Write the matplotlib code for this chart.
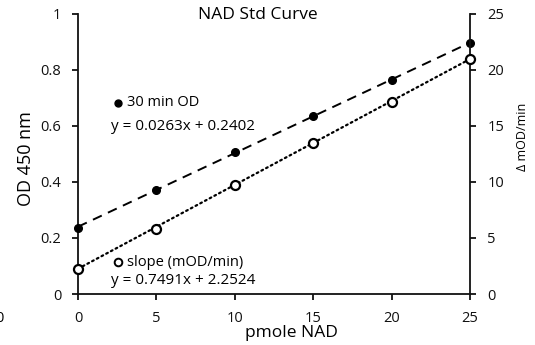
import numpy as np
import matplotlib
matplotlib.use("Agg")
import matplotlib.pyplot as plt

plt.rcParams['font.family'] = ['Open Sans', 'DejaVu Sans']

# data
pmole = [0, 5, 10, 15, 20, 25]
od_30min = [0.235, 0.371, 0.508, 0.637, 0.765, 0.896]
slope_mod = [2.26, 5.83, 9.73, 13.46, 17.17, 20.95]

# trendline coefficients as printed on the chart
od_fit = (0.0263, 0.2402)
slope_fit = (0.7491, 2.2524)

fig = plt.figure(figsize=(5.35, 3.45), dpi=100)
ax = fig.add_axes([78/535, 1-294/345, (470-78)/535, (294-14)/345])
ax2 = ax.twinx()

xx = np.array([pmole[0], pmole[-1]])
ax.plot(xx, od_fit[0]*xx + od_fit[1], color='black', lw=1.4, ls=(0, (5, 3.5)), zorder=2)
ax.plot(pmole, od_30min, 'o', color='black', ms=5.5, zorder=3, clip_on=False)
ax2.plot(xx, slope_fit[0]*xx + slope_fit[1], color='black', lw=1.6, ls=(0, (0.8, 1.6)),
         dash_capstyle='round', zorder=2)
ax2.plot(pmole, slope_mod, 'o', mfc='white', mec='black', mew=1.6, ms=6.5, zorder=3, clip_on=False)

ax.set_xlim(0, 25)
ax.set_ylim(0, 1)
ax2.set_ylim(0, 25)
ax.set_xticks([0, 5, 10, 15, 20, 25])
ax.set_yticks([0, 0.2, 0.4, 0.6, 0.8, 1])
ax.set_yticklabels(['0', '0.2', '0.4', '0.6', '0.8', '1'])
ax2.set_yticks([0, 5, 10, 15, 20, 25])

for a in (ax, ax2):
    a.spines['top'].set_visible(False)
    for s in a.spines.values():
        s.set_linewidth(1.3)
        s.set_color('#111111')
    a.tick_params(direction='out', length=4, width=1.3, labelsize=10.5, colors='#111111')
ax.tick_params(axis='x', pad=8)
ax.tick_params(axis='y', pad=8)
ax2.tick_params(axis='y', pad=8.5)
ax.spines['right'].set_visible(False)
ax2.spines['left'].set_visible(False)
ax2.spines['bottom'].set_visible(False)

fig.text(26/535, 1-159/345, 'OD 450 nm', rotation=90, ha='center', va='center', fontsize=13)
fig.text(291/535, 1-333/345, 'pmole NAD', ha='center', va='center', fontsize=12.5)
fig.text(522/535, 1-137/345, 'Δ mOD/min', rotation=90, ha='center', va='center', fontsize=9)
fig.text(258/535, 1-15/345, 'NAD Std Curve', ha='center', va='center', fontsize=12.5)

# legend-like labels
fig.lines.append(plt.Line2D([118/535], [1-103/345], marker='o', color='black', ms=5, transform=fig.transFigure))
fig.text(127/535, 1-103/345, '30 min OD', ha='left', va='center', fontsize=10.5)
fig.text(183/535, 1-127/345, 'y = 0.0263x + 0.2402', ha='center', va='center', fontsize=11)
fig.lines.append(plt.Line2D([118/535], [1-262/345], marker='o', mfc='white', mec='black', mew=1.4,
                            ms=5.5, transform=fig.transFigure))
fig.text(127/535, 1-262/345, 'slope (mOD/min)', ha='left', va='center', fontsize=10.5)
fig.text(183/535, 1-281/345, 'y = 0.7491x + 2.2524', ha='center', va='center', fontsize=11)

# clipped label at the far left edge
fig.text(-1/535, 1-318/345, '0', ha='center', va='center', fontsize=10.5)

fig.savefig('out.png', dpi=100)
